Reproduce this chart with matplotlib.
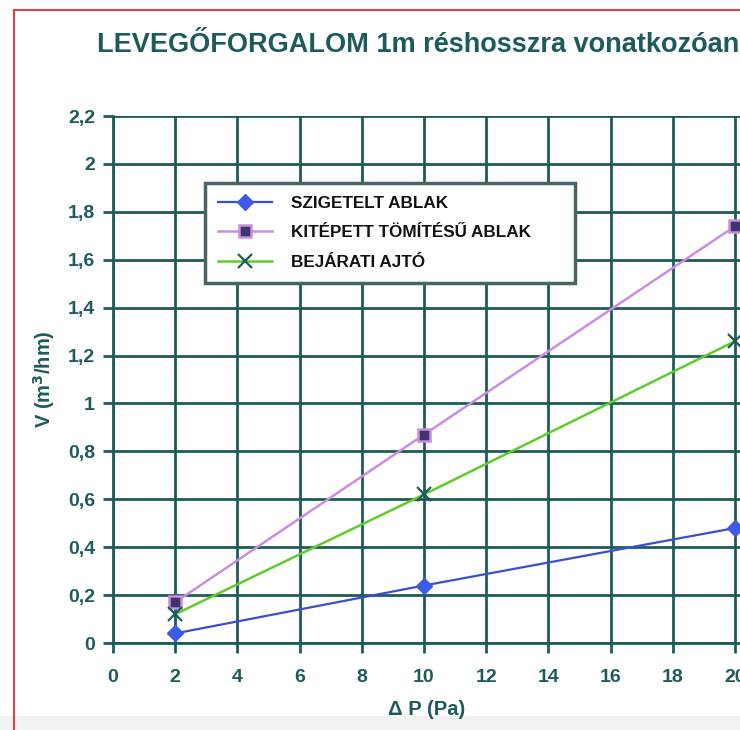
import matplotlib.pyplot as plt
from matplotlib.lines import Line2D
from matplotlib.patches import Rectangle
from matplotlib.ticker import FixedLocator, FixedFormatter

# adatok
dp = [2, 10, 20]
szigetelt = [0.04, 0.24, 0.48]
kitepett = [0.17, 0.87, 1.74]
bejarati = [0.12, 0.62, 1.26]

series_names = ['SZIGETELT ABLAK', 'KITÉPETT TÖMÍTÉSŰ ABLAK', 'BEJÁRATI AJTÓ']
x_ticks = list(range(0, 22, 2))
y_ticks = [i / 10 for i in range(0, 23, 2)]
y_labels = ['0', '0,2', '0,4', '0,6', '0,8', '1', '1,2', '1,4', '1,6', '1,8', '2', '2,2']

teal = '#1d5b5b'
plt.rcParams['font.family'] = ['Liberation Sans', 'DejaVu Sans']

fig = plt.figure(figsize=(7.4, 7.3), dpi=100)
# világosszürke sáv alul
fig.add_artist(Rectangle((0, 0), 1, 14 / 730, transform=fig.transFigure,
                         color='#f1f3f3', zorder=0))
ax = fig.add_axes([113 / 740, 87 / 730, 627 / 740, 527 / 730])

ax.plot(dp, szigetelt, color='#3a4fd0', lw=1.6, marker='D', ms=8,
        mfc='#3d5be8', mec='#3d5be8', label=series_names[0], clip_on=False, zorder=5)
ax.plot(dp, kitepett, color='#c98ee0', lw=1.8, marker='s', ms=9,
        mfc='#3f3470', mec='#c98ee0', mew=1.8, label=series_names[1], clip_on=False, zorder=5)
ax.plot(dp, bejarati, color='#5fcc2a', lw=1.8, marker='x', ms=10,
        mec=teal, mew=1.6, label=series_names[2], clip_on=False, zorder=5)

ax.set_xlim(0, 20 * 627 / 622)
ax.set_ylim(0, 2.2)
ax.xaxis.set_major_locator(FixedLocator(x_ticks))
ax.yaxis.set_major_locator(FixedLocator(y_ticks))
ax.yaxis.set_major_formatter(FixedFormatter(y_labels))
ax.grid(True, color=teal, lw=2)
ax.set_axisbelow(True)
for side in ['top', 'right']:
    ax.spines[side].set_visible(False)
for side in ['left', 'bottom']:
    ax.spines[side].set_color(teal)
    ax.spines[side].set_linewidth(2)
ax.tick_params(colors=teal, width=2, length=7, labelsize=14)
ax.tick_params(axis='y', pad=6)
ax.tick_params(axis='x', pad=12)
for lbl in ax.get_xticklabels() + ax.get_yticklabels():
    lbl.set_fontweight('bold')

ax.set_xlabel('Δ P (Pa)', fontsize=14.5, fontweight='bold', color=teal, labelpad=10)
ax.set_ylabel('V (m$^\\mathbf{3}$/hm)', fontsize=14.5, fontweight='bold', color=teal, labelpad=8)

leg = ax.legend(loc='upper left', mode='expand',
                bbox_to_anchor=((205 - 113) / 627, 1 - (292 - 116) / 527, 370 / 627, 109 / 527),
                fontsize=12.3, frameon=True, fancybox=False, borderpad=0.75,
                labelspacing=0.85, handlelength=3.2, handletextpad=1.1, borderaxespad=0)
leg.get_frame().set_edgecolor('#4a6464')
leg.get_frame().set_linewidth(2.5)
leg.get_frame().set_alpha(1)
for t in leg.get_texts():
    t.set_fontweight('bold')
    t.set_color('#111111')

fig.text(97 / 740, 1 - 45 / 730, 'LEVEGŐFORGALOM 1m réshosszra vonatkozóan',
         fontsize=19.5, fontweight='bold', color=teal, va='center', ha='left')

# piros keret
fig.add_artist(Line2D([14 / 740, 14 / 740], [0, 1 - 10 / 730], color='#e0404f', lw=1.5, zorder=10))
fig.add_artist(Line2D([14 / 740, 1], [1 - 10 / 730, 1 - 10 / 730], color='#e0404f', lw=1.5, zorder=10))

fig.savefig('out.png', dpi=100)
